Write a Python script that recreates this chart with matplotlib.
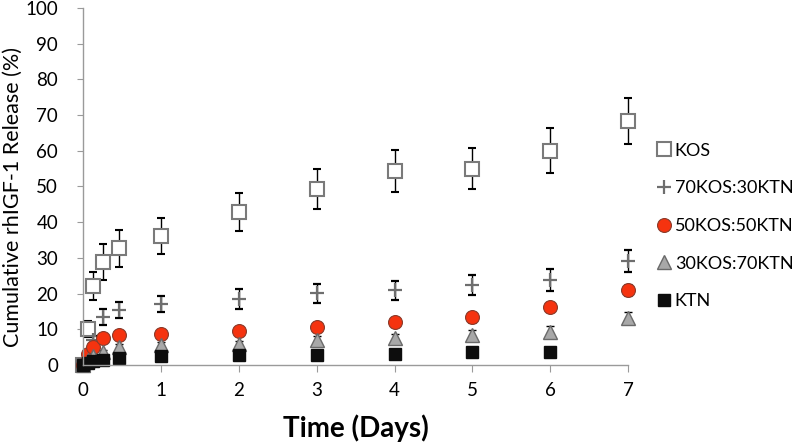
import matplotlib
matplotlib.use("Agg")
import matplotlib.pyplot as plt
from matplotlib.lines import Line2D

plt.rcParams['font.family'] = ['Lato', 'DejaVu Sans']

# time points (days)
days = [0, 0.06, 0.125, 0.26, 0.46, 1, 2, 3, 4, 5, 6, 7]

kos = [0, 10.1, 22.1, 28.9, 32.7, 36.1, 42.8, 49.3, 54.3, 55.0, 60.0, 68.4]
kos_err = [0, 2.2, 4.0, 5.0, 5.2, 5.1, 5.3, 5.6, 5.8, 5.8, 6.3, 6.4]

k70 = [0, 3.0, 7.0, 13.4, 15.4, 17.0, 18.5, 20.1, 20.9, 22.4, 23.8, 29.1]
k70_err = [0, 0.5, 1.0, 2.3, 2.3, 2.3, 2.7, 2.7, 2.7, 2.8, 3.0, 3.1]

k50 = [0, 3.0, 5.1, 7.5, 8.4, 8.7, 9.5, 10.7, 11.9, 13.3, 16.1, 21.0]
k50_err = [0, 0.5, 0.8, 1.0, 1.0, 1.0, 1.0, 1.2, 1.3, 1.5, 1.4, 1.6]

k30 = [0, 1.5, 2.5, 3.7, 5.1, 5.6, 5.8, 7.0, 7.5, 8.4, 9.3, 13.1]
k30_err = [0, 0.3, 0.5, 0.6, 0.8, 0.8, 0.9, 1.0, 1.2, 1.3, 1.5, 1.7]

ktn_days = days[:-1]
ktn = [0, 0.5, 1.0, 1.4, 2.0, 2.4, 2.7, 2.7, 3.1, 3.5, 3.7]
ktn_err = [0, 0.2, 0.2, 0.2, 0.3, 0.3, 0.3, 0.3, 0.3, 0.3, 0.3]

labels = ["KOS", "70KOS:30KTN", "50KOS:50KTN", "30KOS:70KTN", "KTN"]

# marker styles per series
styles = [
    dict(marker="s", markersize=9.5, markerfacecolor="white", markeredgecolor="#7a7a7a", markeredgewidth=1.5),
    dict(marker="+", markersize=10, markeredgecolor="#6e6e6e", markeredgewidth=1.6),
    dict(marker="o", markersize=10, markerfacecolor="#f5330f", markeredgecolor="#8a3a2a", markeredgewidth=0.8),
    dict(marker="^", markersize=10, markerfacecolor="#a8a8a8", markeredgecolor="#6a6a6a", markeredgewidth=1.0),
    dict(marker="s", markersize=8, markerfacecolor="#0d0d0d", markeredgecolor="#0d0d0d"),
]

fig = plt.figure(figsize=(8, 4.45), dpi=100)
ax = fig.add_axes([0.104, 0.18, 0.681, 0.802])

eb = dict(ecolor="black", elinewidth=1.0, capsize=3.2, capthick=1.0, linestyle="none")

series = [(days, kos, kos_err), (days, k70, k70_err), (days, k50, k50_err),
          (days, k30, k30_err), (ktn_days, ktn, ktn_err)]
for (x, y, e), st in zip(series, styles):
    cont = ax.errorbar(x, y, yerr=e, **st, **eb)
    for child in cont.get_children():
        child.set_clip_on(False)

ax.set_xlim(0, 7)
ax.set_ylim(0, 100)
ax.set_xticks(range(0, 8))
ax.set_yticks(range(0, 101, 10))

for side in ["top", "right"]:
    ax.spines[side].set_visible(False)
for side in ["left", "bottom"]:
    ax.spines[side].set_color("#9a9a9a")
    ax.spines[side].set_linewidth(1.0)

ax.tick_params(axis="y", length=4, color="#9a9a9a", labelsize=13.5, pad=14)
ax.tick_params(axis="x", length=5, color="#9a9a9a", labelsize=13.5, pad=7)

ax.set_ylabel("Cumulative rhIGF-1 Release (%)", fontsize=15.5)
ax.yaxis.set_label_coords(-0.11, 0.47)
ax.set_xlabel("Time (Days)", fontsize=20, fontweight="bold")
ax.xaxis.set_label_coords(0.5, -0.14)

handles = [Line2D([], [], linestyle="none", **st) for st in styles]
fig.legend(
    handles=handles,
    labels=labels,
    loc="center left",
    bbox_to_anchor=(0.822, 0.492),
    frameon=False,
    fontsize=13,
    handlelength=0.7,
    handletextpad=0.25,
    labelspacing=1.2,
    borderaxespad=0,
    borderpad=0,
)

fig.savefig("out.png", dpi=100)
